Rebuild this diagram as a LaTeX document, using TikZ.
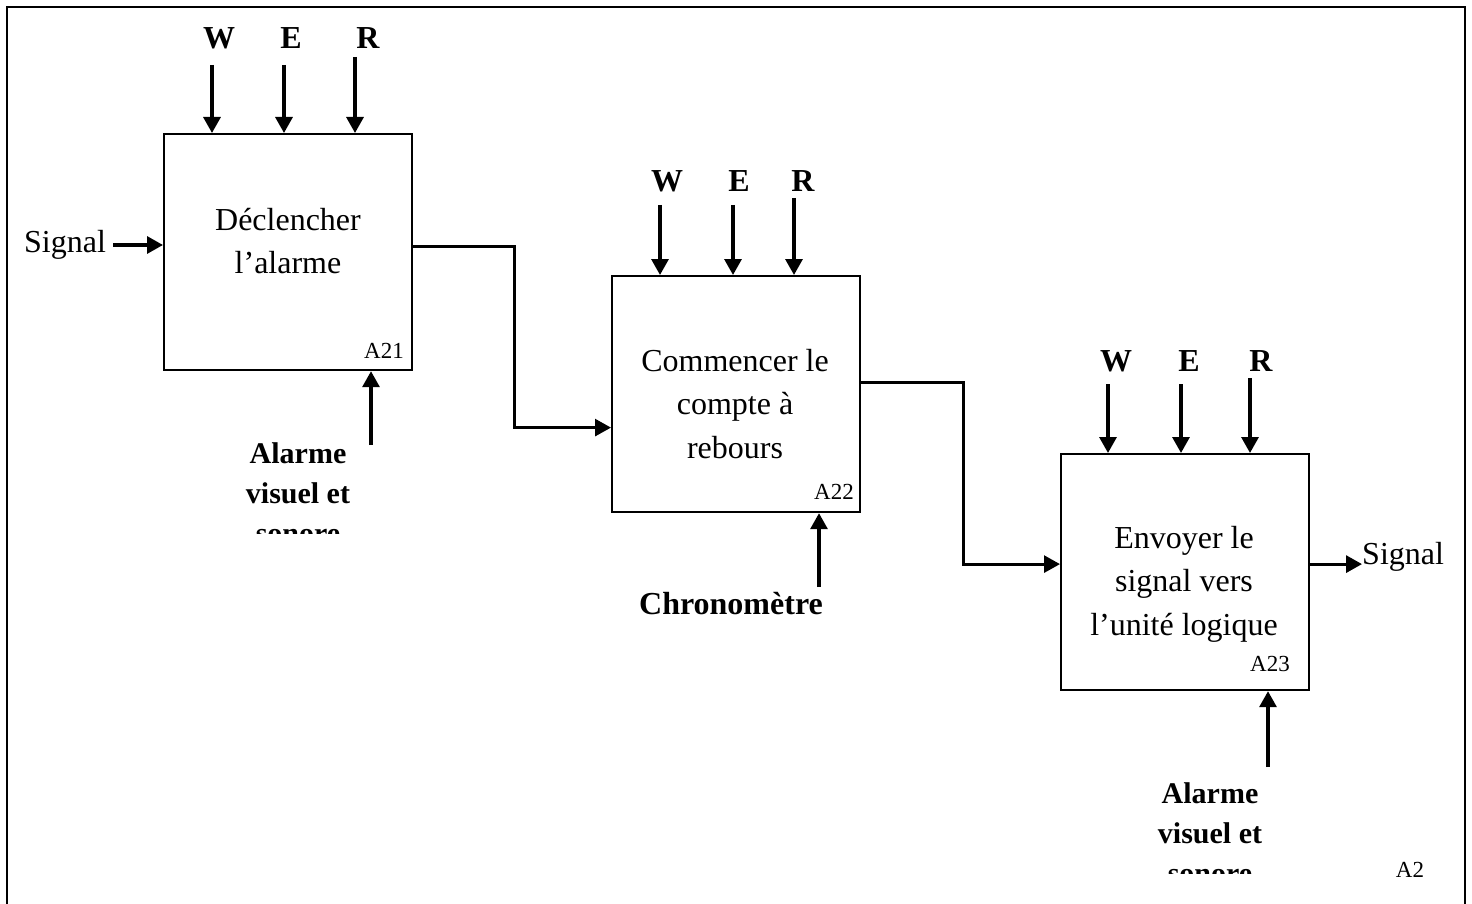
\documentclass[tikz,border=0pt]{standalone}
\usepackage{fontspec}
\setmainfont{Liberation Serif}
\usetikzlibrary{arrows.meta}
\begin{document}
\begin{tikzpicture}[x=1pt,y=-1pt,
  box/.style={draw,line width=2.2pt,minimum width=248pt,minimum height=236pt,inner sep=0pt,anchor=north west},
  boxtext/.style={align=center,inner sep=0pt,font=\fontsize{32}{43.5}\selectfont},
  idcode/.style={inner sep=0pt,font=\fontsize{23}{26}\selectfont},
  lbl/.style={inner sep=0pt,font=\fontsize{32}{38}\selectfont\bfseries},
  mech/.style={align=center,inner sep=0pt,anchor=north,font=\fontsize{30}{40}\selectfont\bfseries},
  sig/.style={inner sep=0pt,font=\fontsize{32}{38}\selectfont},
  flow/.style={line width=3.2pt,-{Triangle[length=16pt,width=17pt]}}]
\useasboundingbox (0,0) rectangle (1472,904);

% outer frame (open at the bottom)
\draw[line width=2.5pt] (7,906) -- (7,7) -- (1465,7) -- (1465,906);

% activity boxes
\node[box] (b1) at (163,133) {};
\node[box] (b2) at (611,275) {};
\node[box] (b3) at (1060,453) {};

\node[boxtext] (t1) at (288,241) {Déclencher\\l’alarme};
\node[boxtext] (t2) at (735,404) {Commencer le\\compte à\\rebours};
\node[boxtext] (t3) at (1184,584) {Envoyer le\\signal vers\\l’unité logique};

\node[idcode] (c1) at (384,351) {A21};
\node[idcode] (c2) at (834,492) {A22};
\node[idcode] (c3) at (1270,664) {A23};
\node[idcode] (c0) at (1410,870) {A2};

% controls W, E, R above each box
\foreach \b/\xw/\xe/\xr/\lw/\le/\lr/\ly/\sw/\sr in
  {b1/212/284/355/219/291/368/38/65/57,
   b2/660/733/794/667/739/803/181/205/198,
   b3/1108/1181/1250/1116/1189/1261/361/384/378}{
  \node[lbl] (\b W) at (\lw,\ly) {W};
  \node[lbl] (\b E) at (\le,\ly) {E};
  \node[lbl] (\b R) at (\lr,\ly) {R};
  \coordinate (\b w) at (\xw,\sw);
  \coordinate (\b e) at (\xe,\sw);
  \coordinate (\b r) at (\xr,\sr);
  \draw[flow] (\b w) -- (\b w |- \b.north);
  \draw[flow] (\b e) -- (\b e |- \b.north);
  \draw[flow] (\b r) -- (\b r |- \b.north);
}

% input and output signals
\node[sig] (s1) at (65,245) {Signal};
\draw[flow] ([xshift=7pt]s1.east) -- (s1.east -| b1.west);
\node[sig,anchor=west] (s2) at (1362,557) {Signal};
\draw[flow] ([yshift=8pt]b3.east) -- ([yshift=8pt]b3.east -| s2.west);

% links between activities
\draw[flow,line width=2.8pt] ([yshift=6pt]b1.east) -- ++(101,0) |- ([yshift=-33.5pt]b2.west);
\draw[flow,line width=2.8pt] ([yshift=11.5pt]b2.east) -- ++(102,0) |- ([yshift=8pt]b3.west);

% mechanisms below each box
\coordinate (m1) at (371,445);
\coordinate (m2) at (819,587);
\coordinate (m3) at (1268,767);
\draw[flow] (m1) -- (m1 |- b1.south);
\draw[flow] (m2) -- (m2 |- b2.south);
\draw[flow] (m3) -- (m3 |- b3.south);

\begin{scope}
  \clip (0,0) rectangle (1472,533);
  \node[mech] (k1) at (298,442) {Alarme\\visuel et\\sonore};
\end{scope}
\node[lbl] (k2) at (731,604) {Chronomètre};
\begin{scope}
  \clip (0,0) rectangle (1472,873);
  \node[mech] (k3) at (1210,782) {Alarme\\visuel et\\sonore};
\end{scope}
\end{tikzpicture}
\end{document}
